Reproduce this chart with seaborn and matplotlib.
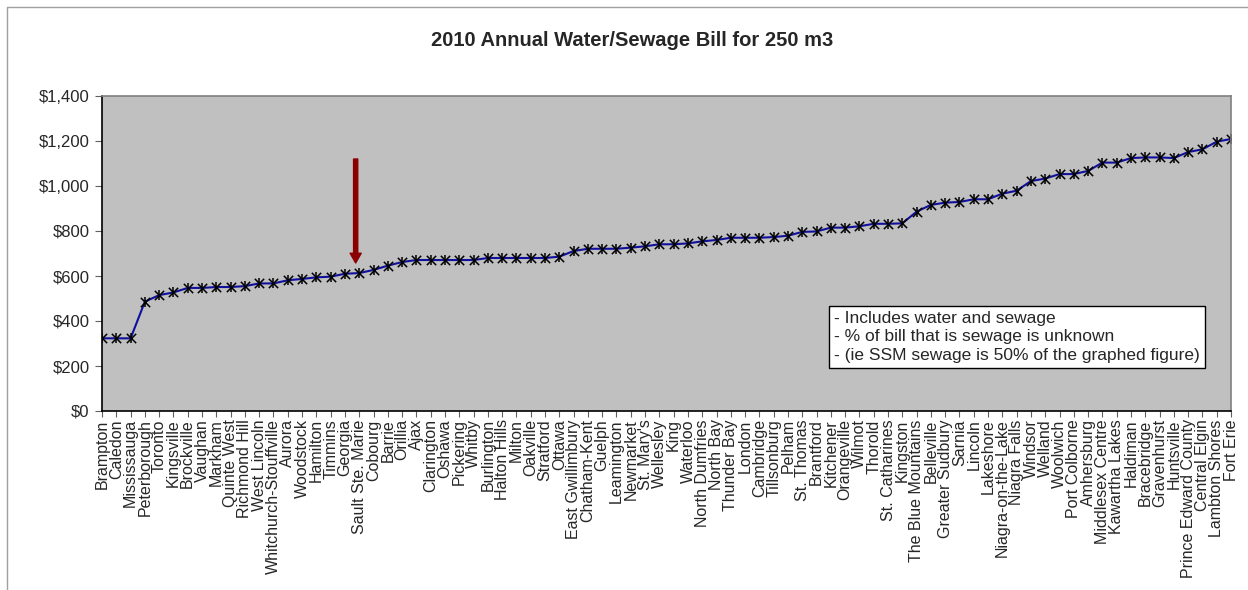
import matplotlib
matplotlib.use("Agg")
import matplotlib.pyplot as plt
from matplotlib.lines import Line2D
from matplotlib.ticker import FuncFormatter
import seaborn as sns
import pandas as pd
import numpy as np

municipalities = [
    "Brampton", "Caledon", "Mississauga", "Peterborough", "Toronto", "Kingsville",
    "Brockville", "Vaughan", "Markham", "Quinte West", "Richmond Hill", "West Lincoln",
    "Whitchurch-Stouffville", "Aurora", "Woodstock", "Hamilton", "Timmins", "Georgia",
    "Sault Ste. Marie", "Cobourg", "Barrie", "Orillia", "Ajax", "Clarington", "Oshawa",
    "Pickering", "Whitby", "Burlington", "Halton Hills", "Milton", "Oakville", "Stratford",
    "Ottawa", "East Gwillimbury", "Chatham-Kent", "Guelph", "Leamington", "Newmarket",
    "St. Mary's", "Wellesley", "King", "Waterloo", "North Dumfries", "North Bay",
    "Thunder Bay", "London", "Cambridge", "Tillsonburg", "Pelham", "St. Thomas",
    "Brantford", "Kitchener", "Orangeville", "Wilmot", "Thorold", "St. Catharines",
    "Kingston", "The Blue Mountains", "Belleville", "Greater Sudbury", "Sarnia", "Lincoln",
    "Lakeshore", "Niagra-on-the-Lake", "Niagra Falls", "Windsor", "Welland", "Woolwich",
    "Port Colborne", "Amhersburg", "Middlesex Centre", "Kawartha Lakes", "Haldiman",
    "Bracebridge", "Gravenhurst", "Huntsville", "Prince Edward County", "Central Elgin",
    "Lambton Shores", "Fort Erie",
]

bill = [
    323, 323, 323, 486, 515, 527, 547, 547, 551, 551, 555, 567,
    567, 581, 587, 594, 597, 610, 613, 627, 646, 662, 671, 671,
    671, 671, 671, 680, 680, 680, 680, 680, 686, 711, 721, 721,
    721, 726, 732, 741, 741, 745, 754, 760, 770, 770, 770, 773,
    779, 796, 798, 815, 815, 821, 832, 832, 834, 886, 916, 926,
    929, 941, 941, 966, 979, 1022, 1033, 1053, 1053, 1067, 1104, 1104,
    1124, 1127, 1127, 1124, 1151, 1163, 1197, 1209,
]

y_ticks = [0, 200, 400, 600, 800, 1000, 1200, 1400]
title = "2010 Annual Water/Sewage Bill for 250 m3"
note_lines = [
    "- Includes water and sewage",
    "- % of bill that is sewage is unknown",
    "- (ie SSM sewage is 50% of the graphed figure)",
]
highlight = "Sault Ste. Marie"

sns.set_style("ticks")
plt.rcParams["font.family"] = ["Liberation Sans", "DejaVu Sans"]

df = pd.DataFrame({"pos": np.arange(len(municipalities)), "name": municipalities, "bill": bill})

fig = plt.figure(figsize=(12.48, 5.90), dpi=100)
fig.patch.set_facecolor("white")
ax = fig.add_axes([102 / 1248, 1 - 411 / 590, (1231 - 102) / 1248, (411 - 96) / 590])
ax.set_facecolor("#C0C0C0")

sns.lineplot(data=df, x="pos", y="bill", ax=ax, color="#10109A", linewidth=1.5, sort=False)
sns.scatterplot(data=df, x="pos", y="bill", ax=ax, marker="x", color="black", s=45,
                linewidth=1.1, zorder=5)
sns.scatterplot(data=df, x="pos", y="bill", ax=ax, marker="|", color="black", s=45,
                linewidth=1.1, zorder=5)

ax.set_xlim(0, len(municipalities) - 1)
ax.set_ylim(y_ticks[0], y_ticks[-1])
ax.set_yticks(y_ticks)
ax.yaxis.set_major_formatter(FuncFormatter(lambda v, p: f"${v:,.0f}"))
ax.set_xticks(df["pos"])
ax.set_xticklabels(municipalities, rotation=90, ha="center", va="top")
ax.tick_params(axis="x", labelsize=11.5, length=4, width=0.8, color="#606060", pad=2)
ax.tick_params(axis="y", labelsize=12, length=5, width=0.8, color="#606060", pad=4)
ax.set_xlabel("")
ax.set_ylabel("")

for side in ["left", "bottom"]:
    ax.spines[side].set_color("black")
    ax.spines[side].set_linewidth(1.2)
for side in ["top", "right"]:
    ax.spines[side].set_visible(True)
    ax.spines[side].set_color("#808080")
    ax.spines[side].set_linewidth(1.2)
for sp in ax.spines.values():
    sp.set_zorder(6)

# arrow pointing at Sault Ste. Marie
idx = municipalities.index(highlight)
ax.annotate("", xy=(idx - 0.25, 658), xytext=(idx - 0.25, 1120),
            arrowprops=dict(facecolor="#8B0000", edgecolor="#8B0000", width=3,
                            headwidth=8, headlength=7, shrink=0), zorder=7)

ax.text(0.6485, 0.235, "\n".join(note_lines), transform=ax.transAxes,
        ha="left", va="center", fontsize=12.5, linespacing=1.27, zorder=8,
        bbox=dict(boxstyle="square,pad=0.3", facecolor="white", edgecolor="black", linewidth=1))

fig.text(632 / 1248, 1 - 40 / 590, title, ha="center", va="center",
         fontsize=14.5, fontweight="bold")

# outer chart-area border (left and top visible)
fig.add_artist(Line2D([7 / 1248, 7 / 1248], [0, 1 - 7 / 590], transform=fig.transFigure,
                      color="#A0A0A0", linewidth=1))
fig.add_artist(Line2D([7 / 1248, 1], [1 - 7 / 590, 1 - 7 / 590], transform=fig.transFigure,
                      color="#A0A0A0", linewidth=1))

fig.savefig("out.png", dpi=100, facecolor="white")
